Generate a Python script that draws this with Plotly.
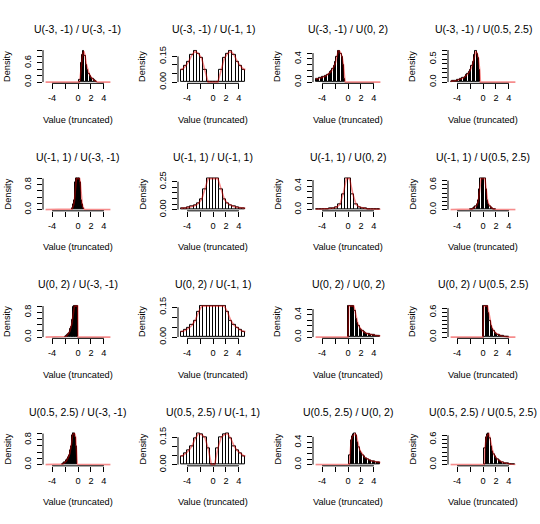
import plotly.graph_objects as go

dists = ["U(-3, -1)", "U(-1, 1)", "U(0, 2)", "U(0.5, 2.5)"]

# histogram densities (row = numerator, col = denominator)
h_1_1 = [0.06, 0.60, 0.86, 0.97, 0.81, 0.55, 0.38, 0.27, 0.19, 0.13, 0.09, 0.056, 0.03, 0.01]
h_1_2 = [0.074, 0.093, 0.119, 0.159, 0.181, 0.167, 0.139, 0.069, 0, 0,
         0, 0, 0.069, 0.139, 0.167, 0.181, 0.159, 0.119, 0.093, 0.074]
h_1_3 = [0.052, 0.057, 0.062, 0.068, 0.074, 0.082, 0.091, 0.102, 0.115, 0.130, 0.149, 0.172,
         0.200, 0.237, 0.284, 0.347, 0.434, 0.535, 0.532, 0.495, 0.43, 0.30, 0.052]
h_1_4 = [0.016, 0.020, 0.025, 0.030, 0.036, 0.043, 0.051, 0.061, 0.072, 0.086, 0.103, 0.123,
         0.149, 0.182, 0.224, 0.278, 0.347, 0.446, 0.595, 0.677, 0.625, 0.52, 0.26]
h_2_1 = [0.014, 0.049, 0.098, 0.173, 0.292, 0.5, 0.875, 1.0, 1.0, 1.0,
         1.0, 1.0, 1.0, 0.875, 0.5, 0.292, 0.173, 0.098, 0.049, 0.014]
h_2_2 = [0.0123, 0.0154, 0.0198, 0.0265, 0.037, 0.0556, 0.0926, 0.185, 0.278, 0.278,
         0.278, 0.278, 0.185, 0.0926, 0.0556, 0.037, 0.0265, 0.0198, 0.0154, 0.0123]
h_2_3 = [0.0058, 0.0073, 0.0094, 0.0125, 0.0175, 0.0263, 0.0439, 0.0877, 0.263, 0.526,
         0.526, 0.263, 0.0877, 0.0439, 0.0263, 0.0175, 0.0125, 0.0094, 0.0073, 0.0058]
h_2_4 = [0.0035, 0.012, 0.025, 0.043, 0.073, 0.125, 0.229, 0.49, 0.75, 0.75,
         0.75, 0.75, 0.49, 0.229, 0.125, 0.073, 0.043, 0.025, 0.012, 0.0035]
h_3_1 = [0.007, 0.021, 0.039, 0.059, 0.083, 0.113, 0.15, 0.195, 0.253, 0.33,
         0.43, 0.57, 0.768, 0.98, 1.0, 1.0, 1.0, 1.0, 1.0, 1.0]
h_3_2 = [0.0278, 0.0347, 0.0446, 0.0595, 0.0833, 0.125, 0.156, 0.156, 0.156, 0.156,
         0.156, 0.156, 0.156, 0.156, 0.125, 0.0833, 0.0595, 0.0446, 0.0347, 0.0278]
h_3_3 = [0.556, 0.556, 0.556, 0.556, 0.556, 0.463, 0.331, 0.248, 0.193, 0.154, 0.126, 0.105,
         0.089, 0.076, 0.066, 0.058, 0.051, 0.046, 0.041, 0.037, 0.033, 0.030, 0.027, 0.025, 0.023]
h_3_4 = [0.75, 0.75, 0.75, 0.75, 0.594, 0.385, 0.266, 0.192, 0.142, 0.108,
         0.083, 0.063, 0.049, 0.037, 0.028, 0.021, 0.015, 0.0096, 0.0053, 0.0016]
h_4_1 = [0.005, 0.016, 0.030, 0.044, 0.061, 0.080, 0.104, 0.130, 0.163, 0.201, 0.247, 0.304,
         0.376, 0.467, 0.585, 0.743, 0.944, 1.0, 1.0, 1.0, 0.969, 0.865, 0.604, 0.0625]
h_4_2 = [0.0476, 0.0595, 0.0765, 0.102, 0.143, 0.170, 0.164, 0.149, 0.089, 0,
         0, 0.089, 0.149, 0.164, 0.170, 0.143, 0.102, 0.0765, 0.0595, 0.0476]
h_4_3 = [0.165, 0.435, 0.512, 0.541, 0.559, 0.519, 0.394, 0.306, 0.245, 0.201, 0.167, 0.141,
         0.121, 0.105, 0.092, 0.081, 0.072, 0.064, 0.058, 0.052, 0.048, 0.044, 0.040, 0.037]
h_4_4 = [0.39, 0.651, 0.716, 0.742, 0.62, 0.434, 0.317, 0.24, 0.186, 0.146, 0.117, 0.094,
         0.076, 0.062, 0.05, 0.041, 0.033, 0.026, 0.020, 0.015, 0.011, 0.007, 0.004, 0.001]

heights = [[h_1_1, h_1_2, h_1_3, h_1_4],
           [h_2_1, h_2_2, h_2_3, h_2_4],
           [h_3_1, h_3_2, h_3_3, h_3_4],
           [h_4_1, h_4_2, h_4_3, h_4_4]]

# left edge of the first bin and bin width
first_break = [[0.2, -5, -5, -5],
               [-1, -5, -5, -2],
               [-2, -5, 0, 0],
               [-2.5, -5, 0.2, 0.2]]
bin_width = [[0.2, 0.5, 0.2, 0.2],
             [0.1, 0.5, 0.5, 0.2],
             [0.1, 0.5, 0.2, 0.2],
             [0.1, 0.5, 0.2, 0.2]]

# y axis tick step and the tick labels that are printed
y_step = [[0.2, 0.05, 0.1, 0.1],
          [0.2, 0.05, 0.1, 0.1],
          [0.2, 0.05, 0.1, 0.1],
          [0.2, 0.05, 0.1, 0.1]]
y_labels = [[[0, 0.6], [0, 0.15], [0, 0.4], [0, 0.5]],
            [[0, 0.8], [0, 0.25], [0, 0.4], [0, 0.6]],
            [[0, 0.8], [0, 0.15], [0, 0.4], [0, 0.6]],
            [[0, 0.8], [0, 0.15], [0, 0.4], [0, 0.6]]]

x_ticks = [-4, -2, 0, 2, 4]
x_ticktext = ["-4", "", "0", "2", "4"]

W, H = 540, 524
CW, CH = 135, 131
PL, PR, PT, PB = 43, 113, 43, 77.4   # plot region inside each cell, px

FONT = "Liberation Sans, Arial, sans-serif"
RED = "rgba(235,0,0,0.45)"
SMALL = 9.2

fig = go.Figure()
annotations = []
shapes = []
layout = {}

for r in range(4):
    for c in range(4):
        i = r * 4 + c + 1
        xa = "x" if i == 1 else f"x{i}"
        ya = "y" if i == 1 else f"y{i}"
        h = heights[r][c]
        w = bin_width[r][c]
        lo = first_break[r][c]
        centers = [lo + w * (k + 0.5) for k in range(len(h))]
        hi = lo + w * len(h)

        fig.add_trace(go.Bar(
            x=centers, y=h, width=w, xaxis=xa, yaxis=ya,
            marker=dict(color="white", line=dict(color="black", width=1)),
            showlegend=False, hoverinfo="skip"))

        # density curve, flat zero out to the truncation limits
        cx, cy = [], []
        if lo > -5 + 1e-9:
            cx += [-5, lo]
            cy += [0, 0]
        else:
            cx.append(lo)
            cy.append(h[0])
        cx += centers
        cy += h
        if hi < 5 - 1e-9:
            cx += [hi, 5]
            cy += [0, 0]
        else:
            cx.append(hi)
            cy.append(h[-1])
        fig.add_trace(go.Scatter(
            x=cx, y=cy, mode="lines", xaxis=xa, yaxis=ya,
            line=dict(color=RED, width=1.6), showlegend=False, hoverinfo="skip"))

        ymax = max(h)
        step = y_step[r][c]
        ytop = ymax * 1.04
        yt = []
        k = 0
        while k * step <= ytop + 1e-9:
            yt.append(round(k * step, 4))
            k += 1
        dec = 2 if step < 0.1 else 1
        ytext = [f"{v:.{dec}f}" if any(abs(v - l) < 1e-9 for l in y_labels[r][c]) else "" for v in yt]

        x0, y0 = CW * c, CH * r
        xdom = [(x0 + PL) / W, (x0 + PR) / W]
        ydom = [1 - (y0 + PB) / H, 1 - (y0 + PT) / H]

        layout["xaxis" if i == 1 else f"xaxis{i}"] = dict(
            domain=xdom, anchor=ya, range=[-5.4, 5.4], tickvals=x_ticks, ticktext=x_ticktext,
            ticks="outside", ticklen=5, tickcolor="black", tickwidth=1,
            showgrid=False, zeroline=False, showline=False, ticklabelstandoff=1,
            tickfont=dict(size=SMALL, color="black"), fixedrange=True)
        layout["yaxis" if i == 1 else f"yaxis{i}"] = dict(
            domain=ydom, anchor=xa, range=[-0.04 * ymax, ytop], tickvals=yt, ticktext=ytext,
            ticks="outside", ticklen=5, tickcolor="black", tickwidth=1, tickangle=-90,
            showgrid=False, zeroline=False, showline=False, ticklabelstandoff=2,
            tickfont=dict(size=SMALL, color="black"), fixedrange=True)

        # R style axis lines: only from first to last tick
        shapes.append(dict(type="line", xref=xa, yref=f"{ya} domain", x0=x_ticks[0], x1=x_ticks[-1],
                           y0=0, y1=0, line=dict(color="black", width=1)))
        shapes.append(dict(type="line", xref=f"{xa} domain", yref=ya, x0=0, x1=0,
                           y0=yt[0], y1=yt[-1], line=dict(color="black", width=1)))

        cxp = (x0 + (PL + PR) / 2) / W
        annotations.append(dict(text=f"{dists[r]} / {dists[c]}", x=cxp, y=1 - (y0 + 22) / H,
                                xref="paper", yref="paper", showarrow=False,
                                xanchor="center", yanchor="middle",
                                font=dict(size=10.5, color="black")))
        annotations.append(dict(text="Value (truncated)", x=cxp, y=1 - (y0 + 115) / H,
                                xref="paper", yref="paper", showarrow=False,
                                xanchor="center", yanchor="middle",
                                font=dict(size=SMALL, color="black")))
        annotations.append(dict(text="Density", x=(x0 + 7.5) / W, y=1 - (y0 + 60) / H,
                                xref="paper", yref="paper", showarrow=False, textangle=-90,
                                xanchor="center", yanchor="middle",
                                font=dict(size=SMALL, color="black")))

fig.update_layout(
    width=W, height=H, margin=dict(l=0, r=0, t=0, b=0),
    paper_bgcolor="white", plot_bgcolor="white",
    font=dict(family=FONT, color="black"),
    bargap=0, annotations=annotations, shapes=shapes, **layout)

# drop the default page margin so the 540x524 figure fills the window exactly
fig.write_html("out.html", config={"displayModeBar": False},
               post_script="document.body.style.margin='0';document.body.style.overflow='hidden';")
